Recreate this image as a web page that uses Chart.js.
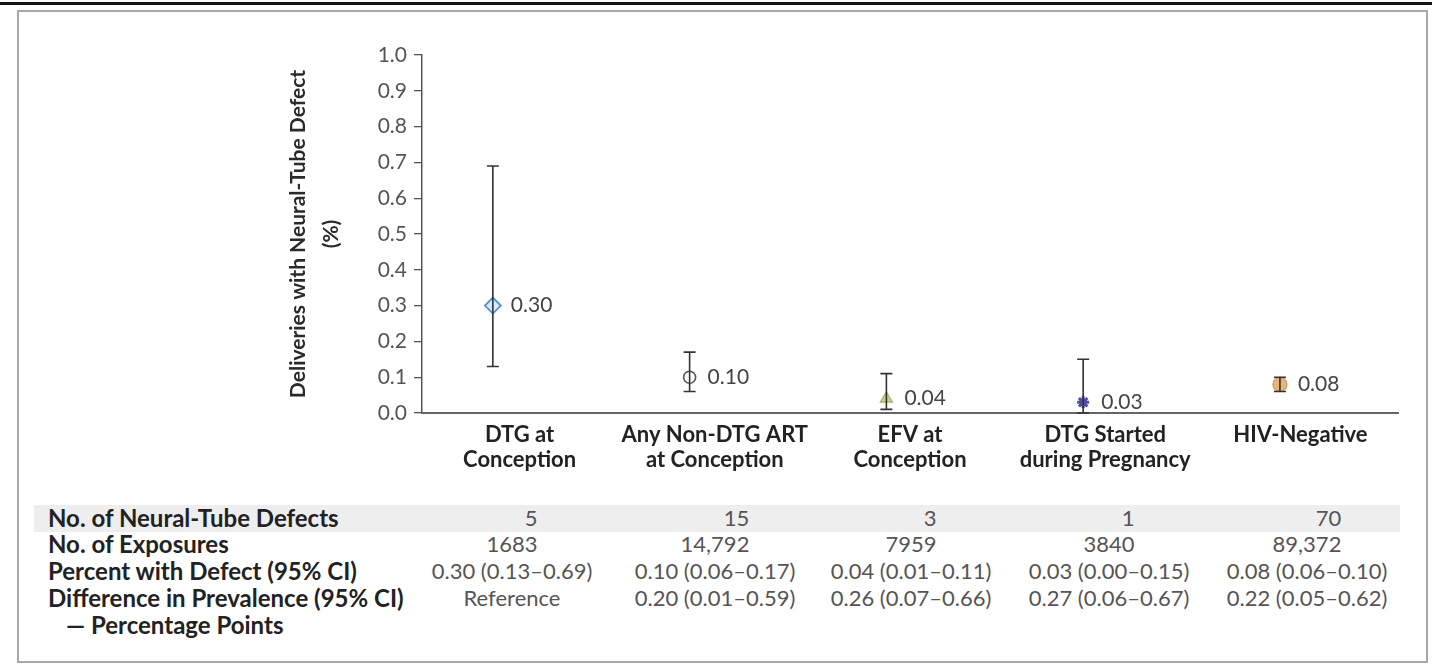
<!DOCTYPE html>
<html><head><meta charset="utf-8">
<script src="https://cdn.jsdelivr.net/npm/chart.js@4.4.1/dist/chart.umd.min.js"></script>
<style>
html,body{margin:0;padding:0;background:#fff;width:1432px;height:666px;overflow:hidden;font-family:Lato,"Open Sans",sans-serif;}
#topline{position:absolute;left:0;top:2px;width:1432px;height:3px;background:#151515;}
#frame{position:absolute;left:17px;top:10px;width:1411px;height:653px;border:2px solid #a8a8a8;box-sizing:border-box;}
#wrap{position:absolute;left:0;top:0;width:1432px;height:490px;}
#band{position:absolute;left:34px;top:505px;width:1366px;height:27px;background:#eeeeee;}
#labels{position:absolute;left:48px;top:504.7px;line-height:26.7px;font-weight:700;font-size:24px;color:#222;white-space:nowrap;}
.col{position:absolute;top:504.7px;transform:translateX(-50%);text-align:center;line-height:26.7px;font-size:22px;color:#555;white-space:nowrap;}
.rt{display:inline-block;text-align:right;}
</style></head>
<body>
<div id="topline"></div>
<div id="frame"></div>
<div id="band"></div>
<div id="wrap"><canvas id="c" width="1432" height="490"></canvas></div>
<div id="labels"></div>
<div id="table"></div>
<script>
// ---- data ----
const categories = [["DTG at","Conception"],["Any Non-DTG ART","at Conception"],["EFV at","Conception"],["DTG Started","during Pregnancy"],["HIV-Negative"]];
const pctValues = [0.30, 0.10, 0.04, 0.03, 0.08];
const ciLow = [0.13, 0.06, 0.01, 0.00, 0.06];
const ciHigh = [0.69, 0.17, 0.11, 0.15, 0.10];
const yTicks = [0.0,0.1,0.2,0.3,0.4,0.5,0.6,0.7,0.8,0.9,1.0];
const yTitle = ["Deliveries with Neural-Tube Defect","(%)"];
const rowLabels = ["No. of Neural-Tube Defects","No. of Exposures","Percent with Defect (95% CI)","Difference in Prevalence (95% CI)","\u2014 Percentage Points"];
const nDefects = ["5","15","3","1","70"];
const nExposures = ["1683","14,792","7959","3840","89,372"];
const pctText = ["0.30 (0.13\u20130.69)","0.10 (0.06\u20130.17)","0.04 (0.01\u20130.11)","0.03 (0.00\u20130.15)","0.08 (0.06\u20130.10)"];
const diffText = ["Reference","0.20 (0.01\u20130.59)","0.26 (0.07\u20130.66)","0.27 (0.06\u20130.67)","0.22 (0.05\u20130.62)"];

// ---- styles ----
const markerStyles = ['rectRot','circle','triangle','star','circle'];
const markerFill = ['rgba(205,224,245,0.7)','rgba(255,255,255,0)','#c9d18c','#4d4da6','#e8b676'];
const markerBorder = ['#4f8fd6','#555555','#a9b46a','#4d4da6','#c8955a'];
const markerRadius = [8,6,7,6,7];
const markerBW = [1.8,1.6,1.2,3,1.2];

const FONT = 'Lato';

const errPlugin = {
  id:'err',
  afterDatasetsDraw(chart){
    const ctx = chart.ctx, xs = chart.scales.xp, ys = chart.scales.y;
    ctx.save();
    ctx.strokeStyle = '#333'; ctx.lineWidth = 1.6;
    ciLow.forEach((lo,i)=>{
      const x = xs.getPixelForValue(i), y1 = ys.getPixelForValue(lo), y2 = ys.getPixelForValue(ciHigh[i]);
      ctx.beginPath();
      ctx.moveTo(x,y1); ctx.lineTo(x,y2);
      ctx.moveTo(x-6,y1); ctx.lineTo(x+6,y1);
      ctx.moveTo(x-6,y2); ctx.lineTo(x+6,y2);
      ctx.stroke();
    });
    ctx.fillStyle = '#444'; ctx.font = '21px ' + FONT; ctx.textBaseline = 'middle'; ctx.textAlign = 'left';
    pctValues.forEach((v,i)=>{
      ctx.fillText(v.toFixed(2), xs.getPixelForValue(i)+18, ys.getPixelForValue(v));
    });
    ctx.restore();
  }
};

new Chart(document.getElementById('c'), {
  type:'scatter',
  data:{
    datasets:[{
      data: pctValues.map((v,i)=>({x:i,y:v})),
      xAxisID:'xp', yAxisID:'y',
      pointStyle: markerStyles,
      backgroundColor: markerFill,
      borderColor: markerBorder,
      pointRadius: markerRadius,
      pointHoverRadius: markerRadius,
      borderWidth: markerBW,
      showLine:false
    }]
  },
  options:{
    responsive:false, animation:false,
    layout:{padding:{left:0,top:55,right:34,bottom:7}},
    plugins:{legend:{display:false},tooltip:{enabled:false}},
    scales:{
      x:{
        type:'category', labels:categories, position:'bottom', offset:true,
        grid:{display:false, drawTicks:false},
        border:{display:true,color:'#666',width:2},
        ticks:{color:'#222',font:{family:FONT,size:22,weight:'bold',lineHeight:1.15},padding:9,maxRotation:0,minRotation:0,autoSkip:false},
        afterFit(s){ s.height = 70; }
      },
      xp:{
        type:'linear', display:false, min:-0.36, max:4.6
      },
      y:{
        type:'linear', min:0, max:1,
        afterBuildTicks(s){ s.ticks = yTicks.map(v=>({value:v})); },
        grid:{display:true,drawOnChartArea:false,drawTicks:true,tickLength:8,color:'#555',lineWidth:1.3},
        border:{display:true,color:'#555',width:1.5},
        ticks:{color:'#555',font:{family:FONT,size:21},padding:7,callback:v=>v.toFixed(1)},
        title:{display:true,text:yTitle,color:'#2a2a2a',font:{family:FONT,size:21,weight:'bold',lineHeight:1.55},padding:{top:282,bottom:0}},
        afterFit(s){ s.width = 422; }
      }
    }
  },
  plugins:[errPlugin]
});

// ---- table ----
document.getElementById('labels').innerHTML = rowLabels.map((t,i)=> i===4 ? '<div style="padding-left:18px">'+t+'</div>' : '<div>'+t+'</div>').join('');
const colCenters = [512,715,911,1109,1307];
const tbl = document.getElementById('table');
colCenters.forEach((cx,i)=>{
  const d = document.createElement('div');
  d.className = 'col';
  d.style.left = cx + 'px';
  d.innerHTML = '<div class="rt"><div>'+nDefects[i]+'</div><div>'+nExposures[i]+'</div></div><div>'+pctText[i]+'</div><div>'+diffText[i]+'</div>';
  tbl.appendChild(d);
});
</script>
</body></html>
